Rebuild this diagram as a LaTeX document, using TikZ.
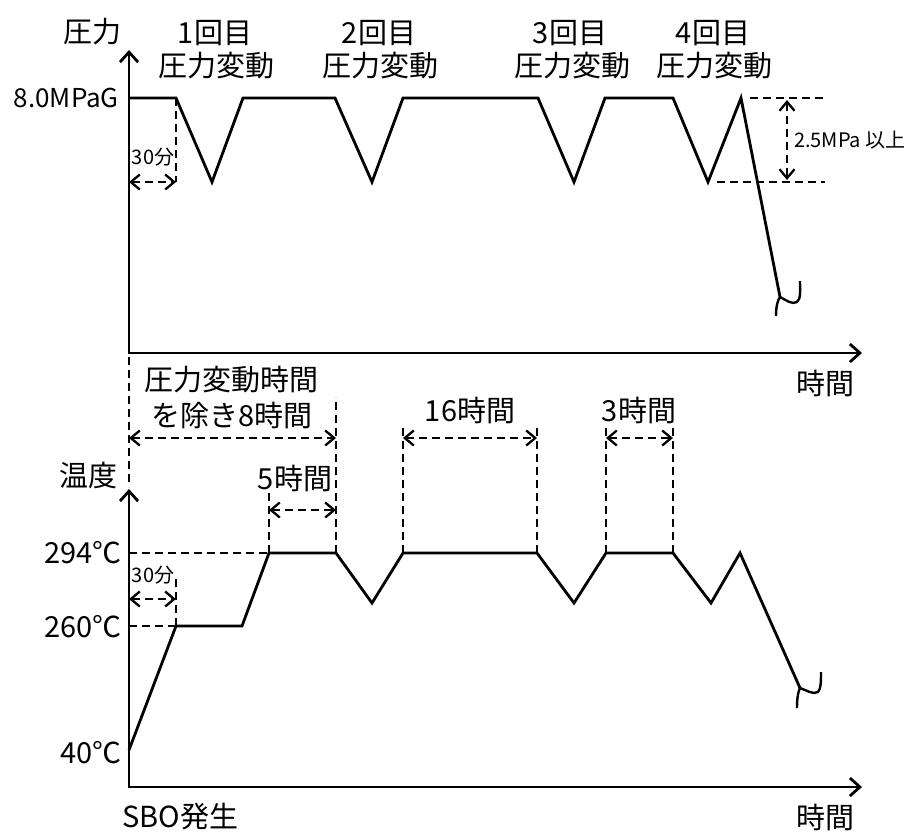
\documentclass[tikz,border=0pt]{standalone}
\usepackage{fontspec}
\setmainfont{Noto Sans CJK JP}
\usetikzlibrary{arrows.meta}

\begin{document}
\begin{tikzpicture}[x=1pt,y=-1pt,
  lbl/.style={inner sep=0pt,font=\fontsize{29}{32}\selectfont},
  smalllbl/.style={inner sep=0pt,font=\fontsize{20}{22}\selectfont},
  curve/.style={black,line width=2.8pt,line join=miter},
  axes/.style={black,line width=2.8pt,{Straight Barb[length=10pt,width=18pt]}-{Straight Barb[length=10pt,width=18pt]}},
  guide/.style={black,line width=2.3pt,dash pattern=on 8pt off 5pt},
  span/.style={guide,{Straight Barb[length=9pt,width=15pt]}-{Straight Barb[length=9pt,width=15pt]}}]
\useasboundingbox (0,0) rectangle (920,831);
% pressure chart
\draw [axes] (129,50) -- (129,353) -- (862,353);
\node [lbl] (pAxis) at (92,32) {圧力};
\node [lbl,anchor=east,font=\fontsize{26}{30}\selectfont] (pHigh) at (119,98) {8.0MPaG};
\node [lbl] (pTime) at (825,383) {時間};
\draw [curve] (129,98) -- (176,98) -- (212,182) -- (243,98) -- (335,98) -- (372,182) -- (403,98) -- (538,98) -- (574,182) -- (605,98) -- (673,98) -- (708,182) -- (741,98) -- (780,297);
\draw [black,line width=2.4pt] (776,316) .. controls (776,305) and (778,300) .. (780,297) .. controls (786,300) and (792,305) .. (797,302) .. controls (801,299) and (800,290) .. (800,281);
\node [lbl] (cyc1) at (215,33) {1回目};
\node [lbl] (var1) at (216,66) {圧力変動};
\node [lbl] (cyc2) at (379,33) {2回目};
\node [lbl] (var2) at (380,66) {圧力変動};
\node [lbl] (cyc3) at (570,33) {3回目};
\node [lbl] (var3) at (572,66) {圧力変動};
\node [lbl] (cyc4) at (713,33) {4回目};
\node [lbl] (var4) at (714,66) {圧力変動};
\draw [guide] (176,98) -- (176,182);
\draw [span] (129,182) -- (176,182);
\node [smalllbl] (pHalf) at (153,157) {30分};
\draw [guide] (750,98) -- (825,98);
\draw [guide] (717,182) -- (825,182);
\draw [span] (787,100) -- (787,180);
\node [smalllbl,anchor=west] (pDrop) at (794,140) {2.5MPa 以上};
% temperature chart
\draw [axes] (129,489) -- (129,787) -- (862,787);
\draw [guide] (129,357) -- (129,487);
\node [lbl] (tAxis) at (88,475) {温度};
\node [lbl,anchor=east] (tHigh) at (122,553) {294℃};
\node [lbl,anchor=east] (tMid) at (122,627) {260℃};
\node [lbl,anchor=east] (tLow) at (122,753) {40℃};
\node [lbl,anchor=west] (sbo) at (122,817) {SBO発生};
\node [lbl] (tTime) at (825,817) {時間};
\draw [curve] (129,750) -- (176,626) -- (242,626) -- (269,553) -- (336,553) -- (372,603) -- (403,553) -- (537,553) -- (574,603) -- (606,553) -- (673,553) -- (711,603) -- (740,553) -- (800,688);
\draw [black,line width=2.4pt] (797,708) .. controls (797,698) and (798,692) .. (800,688) .. controls (806,690) and (813,695) .. (818,692) .. controls (821,689) and (821,680) .. (821,672);
\draw [guide] (129,553) -- (269,553);
\draw [guide] (129,626) -- (176,626);
\draw [guide] (176,626) -- (176,577);
\draw [span] (129,599) -- (176,599);
\node [smalllbl] (tHalf) at (153,575) {30分};
\draw [guide] (269,553) -- (269,490);
\draw [guide] (336,553) -- (336,397);
\draw [span] (269,510) -- (336,510);
\node [lbl] (five) at (295,478) {5時間};
\draw [span] (129,438) -- (336,438);
\node [lbl] (eightA) at (231,380) {圧力変動時間};
\node [lbl] (eightB) at (232,415) {を除き8時間};
\draw [guide] (403,553) -- (403,427);
\draw [guide] (537,553) -- (537,427);
\draw [span] (403,438) -- (537,438);
\node [lbl] (sixteen) at (470,410) {16時間};
\draw [guide] (606,553) -- (606,427);
\draw [guide] (673,553) -- (673,427);
\draw [span] (606,438) -- (673,438);
\node [lbl] (three) at (639,410) {3時間};
\end{tikzpicture}
\end{document}
